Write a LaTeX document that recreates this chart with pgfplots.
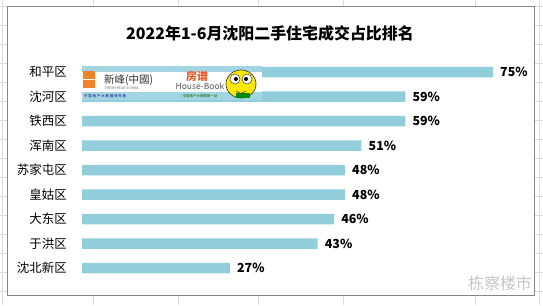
\documentclass[border=0pt]{standalone}
\usepackage{fontspec}
\setmainfont{Noto Sans CJK SC}
\usepackage{pgfplots}
\pgfplotsset{compat=1.18}
\definecolor{barc}{RGB}{146,205,220}
\definecolor{gridc}{RGB}{220,220,220}
\definecolor{framec}{RGB}{134,134,134}
\definecolor{logoorange}{RGB}{240,130,40}
\definecolor{logored}{RGB}{232,90,40}
\begin{document}
\begin{tikzpicture}
\begin{scope}[x=1bp,y=1bp]
\path[use as bounding box] (0,0) rectangle (543,305);
\foreach \gx in {2,93,178,258,343,475,539} \draw[gridc,line width=0.6bp] (\gx,0)--(\gx,305);
\foreach \k in {0,...,15} \draw[gridc,line width=0.6bp] (0,{305-6-19*\k}) -- (543,{305-6-19*\k});
\fill[white] (7.5,10) rectangle (534.5,298);
\draw[framec,line width=1bp] (7.5,10) rectangle (534.5,298);
\node[font=\bfseries\fontsize{16}{18}\selectfont] at (270,272) {2022年1-6月沈阳二手住宅成交占比排名};
\end{scope}
\begin{axis}[
  at={(82bp,24.75bp)}, anchor=south west,
  scale only axis, width=438.4bp, height=220.5bp,
  xbar, xmin=0, xmax=80, ymin=-0.5, ymax=8.5,
  axis line style={draw=none},
  xtick=\empty,
  ytick={0,...,8},
  yticklabels={沈北新区,于洪区,大东区,皇姑区,苏家屯区,浑南区,铁西区,沈河区,和平区},
  major tick length=0pt,
  yticklabel style={font=\fontsize{12.5}{14}\selectfont, inner sep=0pt, anchor=east, xshift=-15bp},
  bar width=10.5bp,
  clip=false,
  point meta=x,
  /pgf/number format/assume math mode=true,
  nodes near coords={\pgfmathprintnumber{\pgfplotspointmeta}\%},
  nodes near coords style={font=\bfseries\fontsize{12.5}{14}\selectfont, anchor=west, inner sep=0pt, xshift=7bp},
]
\addplot[fill=barc, draw=none] coordinates {(27,0) (43,1) (46,2) (48,3) (48,4) (51,5) (59,6) (59,7) (75,8)};
\end{axis}
\begin{scope}[x=1bp,y=1bp]
% watermark logo (approximate)
\fill[barc!85] (82,205) rectangle (262,239);
\fill[white] (82,213) rectangle (262,233);
\fill[logoorange] (83,217) rectangle (95,234);
\draw[white, line width=0.8bp] (83,225.5) -- (95,225.5);
\node[font=\fontsize{10.5}{11}\selectfont, anchor=west, inner sep=0pt, text=black!80] at (104,225) {新峰(中國)};
\node[font=\fontsize{3.5}{4}\selectfont, anchor=west, inner sep=0pt, text=black!60] at (105,217) {FRESH PEAK SCHINA};
\node[font=\fontsize{3.5}{4}\selectfont, anchor=west, inner sep=0pt, text=blue!50!black] at (84,209) {中 国 地 产 大 数 据 领 先 者};
\node[font=\bfseries\fontsize{11}{12}\selectfont, text=logored, inner sep=0pt] at (197,229) {房谱};
\node[font=\fontsize{8.5}{9}\selectfont, text=black!65, inner sep=0pt] at (200,219) {House-Book};
\node[font=\fontsize{3.5}{4}\selectfont, text=green!40!black, inner sep=0pt] at (200,209) {中国地产大数据第一站};
\fill[yellow!90!orange] (241,221) ellipse (15 and 14);
\draw[black!75, line width=0.7bp] (241,221) ellipse (15 and 14);
\fill[green!55!black] (236,207) rectangle (250,212);
\fill[white] (235,226) circle (5); \fill[white] (247,226) circle (5);
\draw[black!75, line width=0.5bp] (235,226) circle (5) (247,226) circle (5);
\fill[black] (236,226) circle (2); \fill[black] (246,226) circle (2);
\draw[black!75, line width=0.6bp] (236,214) .. controls (241,211) .. (246,214);
\node[text=gray!45, font=\fontsize{16}{18}\selectfont] at (500,22) {栋察楼市};
\end{scope}
\end{tikzpicture}
\end{document}
